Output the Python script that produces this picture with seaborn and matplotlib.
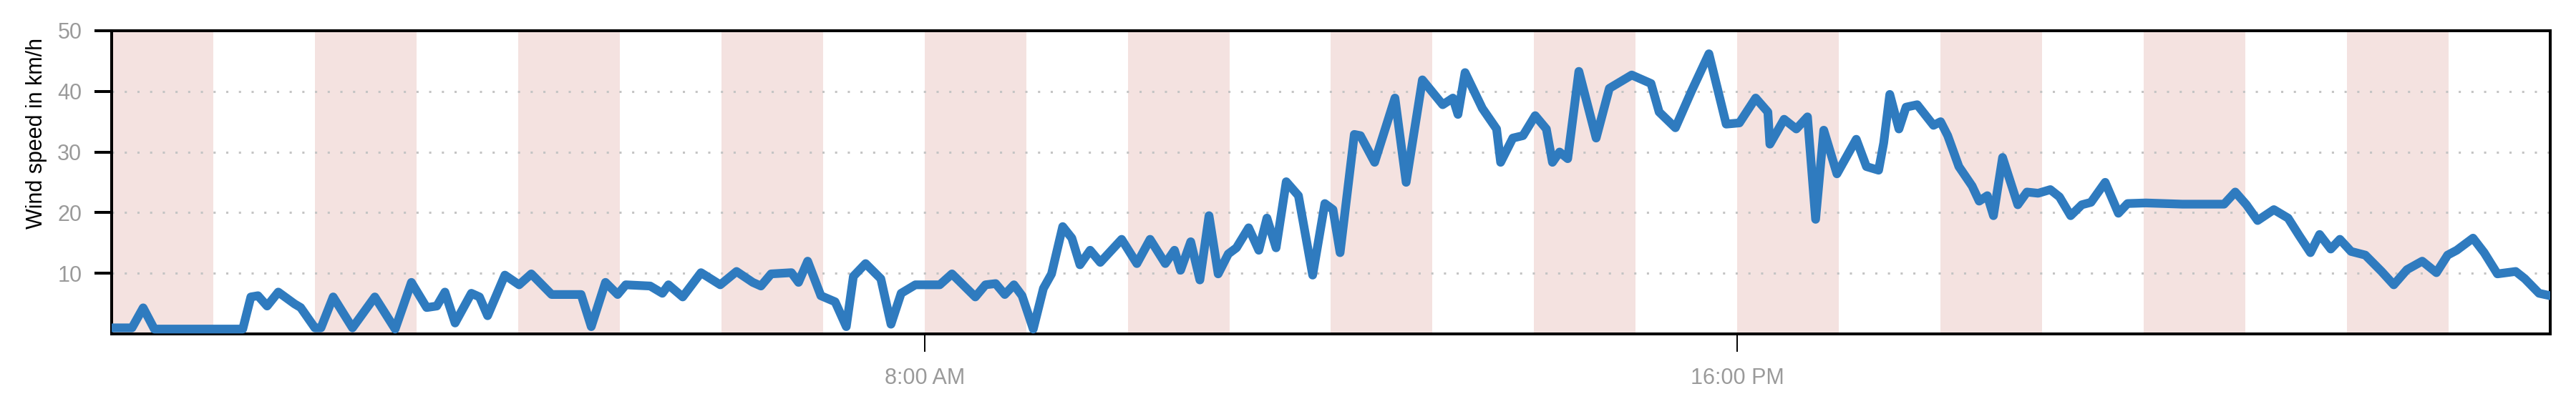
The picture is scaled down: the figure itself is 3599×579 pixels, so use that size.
import matplotlib
matplotlib.use("Agg")
import matplotlib.pyplot as plt
import seaborn as sns
import pandas as pd

# time of day in hours
hours = [
    0.00, 0.20, 0.31, 0.42, 0.80, 1.29, 1.37, 1.44, 1.53, 1.64, 1.80, 1.86,
    2.00, 2.06, 2.18, 2.37, 2.59, 2.79, 2.95, 3.10, 3.20, 3.28, 3.38, 3.54,
    3.62, 3.70, 3.87, 4.01, 4.13, 4.33, 4.62, 4.72, 4.86, 4.98, 5.06, 5.30,
    5.42, 5.48, 5.62, 5.80, 5.99, 6.15, 6.31, 6.39, 6.49, 6.69, 6.76, 6.85,
    6.98, 7.12, 7.23, 7.30, 7.42, 7.57, 7.67, 7.77, 7.91, 8.15, 8.27, 8.50,
    8.60, 8.70, 8.79, 8.88, 8.96, 9.07, 9.17, 9.25, 9.36, 9.45, 9.53, 9.63,
    9.73, 9.94, 10.09, 10.22, 10.37, 10.46, 10.52, 10.62, 10.71, 10.80, 10.89,
    10.99, 11.07, 11.19, 11.29, 11.37, 11.46, 11.56, 11.68, 11.82, 11.94,
    12.02, 12.09, 12.23, 12.29, 12.43, 12.63, 12.74, 12.90, 13.10, 13.20,
    13.25, 13.32, 13.49, 13.63, 13.67, 13.79, 13.89, 14.01, 14.12, 14.18,
    14.25, 14.33, 14.44, 14.61, 14.74, 14.96, 15.15, 15.23, 15.39, 15.55,
    15.72, 15.89, 16.02, 16.18, 16.30, 16.32, 16.46, 16.58, 16.69, 16.77,
    16.85, 16.98, 17.17, 17.27, 17.39, 17.44, 17.50, 17.59, 17.66, 17.77,
    17.93, 18.00, 18.07, 18.18, 18.31, 18.38, 18.46, 18.52, 18.61, 18.76,
    18.85, 18.96, 19.08, 19.17, 19.28, 19.39, 19.48, 19.62, 19.75, 19.84,
    20.02, 20.38, 20.79, 20.90, 21.01, 21.12, 21.28, 21.42, 21.53, 21.64,
    21.73, 21.84, 21.93, 22.04, 22.18, 22.34, 22.46, 22.59, 22.74, 22.88,
    22.99, 23.08, 23.24, 23.35, 23.48, 23.66, 23.75, 23.89, 24.00,
]

# wind speed in km/h
wind_speed = [
    1.0, 1.0, 4.3, 0.8, 0.8, 0.8, 6.1, 6.3, 4.6, 6.9, 4.95, 4.35,
    1.0, 1.0, 6.1, 1.0, 6.1, 0.8, 8.5, 4.35, 4.6, 6.9, 1.8, 6.7,
    6.1, 3.0, 9.7, 8.1, 9.9, 6.5, 6.5, 1.2, 8.5, 6.5, 8.1, 7.9,
    6.7, 8.1, 6.1, 10.1, 8.1, 10.3, 8.5, 7.9, 9.9, 10.1, 8.5, 12.0,
    6.3, 5.3, 1.2, 9.5, 11.6, 9.1, 1.6, 6.7, 8.1, 8.1, 9.9, 6.1,
    8.1, 8.3, 6.5, 8.1, 6.3, 0.8, 7.5, 9.9, 17.7, 15.8, 11.4, 13.8,
    11.8, 15.6, 11.6, 15.6, 11.6, 13.8, 10.5, 15.2, 8.9, 19.5, 9.9,
    13.2, 14.2, 17.5, 13.8, 19.1, 14.2, 25.1, 22.8, 9.7, 21.5,
    20.5, 13.4, 32.9, 32.7, 28.3, 38.9, 25.0, 41.9, 37.8, 38.9,
    36.2, 43.1, 37.2, 33.8, 28.3, 32.3, 32.7, 36.0, 33.8, 28.3,
    30.0, 28.9, 43.3, 32.3, 40.5, 42.7, 41.3, 36.6, 34.0, 40.1,
    46.2, 34.6, 34.8, 38.9, 36.6, 31.3, 35.4, 33.8, 35.8, 18.9,
    33.6, 26.4, 32.1, 27.6, 27.0, 31.5, 39.5, 33.8, 37.4, 37.8,
    34.4, 35.0, 32.7, 27.6, 24.4, 21.9, 22.8, 19.5, 29.1, 21.3,
    23.4, 23.2, 23.8, 22.6, 19.5, 21.3, 21.7, 25.0, 19.9, 21.5,
    21.6, 21.4, 21.4, 23.4, 21.3, 18.7, 20.5, 19.1, 16.2, 13.4,
    16.4, 14.0, 15.6, 13.6, 13.0, 10.3, 8.1, 10.6, 12.0, 10.1,
    13.0, 13.8, 15.8, 13.4, 9.9, 10.3, 9.1, 6.7, 6.3,
]

x_tick_hours = [8, 16]
x_tick_labels = ["8:00 AM", "16:00 PM"]
y_ticks = [10, 20, 30, 40, 50]
grid_levels = [10, 20, 30, 40]
band_starts = list(range(0, 24, 2))

sns.set_theme(style="white")
plt.rcParams["font.family"] = ["Liberation Sans", "DejaVu Sans"]

fig = plt.figure(figsize=(35.99, 5.79), dpi=100)
ax = fig.add_axes([156 / 3599, 1 - 467 / 579, (3563 - 156) / 3599, (467 - 43) / 579])

for s in band_starts:
    ax.axvspan(s, s + 1, color="#f4e2e0", lw=0, zorder=0)

for g in grid_levels:
    ax.axhline(g, color="#c4c4c4", lw=2.2, ls=(0, (1, 4.8)), zorder=1)

df = pd.DataFrame({"hour": hours, "speed": wind_speed})
sns.lineplot(data=df, x="hour", y="speed", ax=ax, color="#2f7bbf", lw=8.8,
             zorder=3, solid_joinstyle="round", solid_capstyle="round",
             legend=False)

ax.set_xlim(0, 24)
ax.set_ylim(0, 50)
ax.set_xticks(x_tick_hours)
ax.set_xticklabels(x_tick_labels)
ax.set_yticks(y_ticks)
ax.set_yticklabels([str(v) for v in y_ticks])
ax.set_xlabel("")
ax.set_ylabel("Wind speed in km/h", fontsize=22, color="black")
ax.yaxis.set_label_coords((66 - 156) / 3407, (467 - 186) / 424)

ax.tick_params(axis="y", length=17, width=2.9, pad=13, labelsize=22,
               labelcolor="#9a9a9a", color="black", left=True, direction="out")
ax.tick_params(axis="x", length=18, width=1.4, pad=16, labelsize=22,
               labelcolor="#9a9a9a", color="black", bottom=True, direction="out")

for sp in ax.spines.values():
    sp.set_visible(True)
    sp.set_color("black")
    sp.set_linewidth(2.9)

fig.savefig("out.png", dpi=100, facecolor="white")
